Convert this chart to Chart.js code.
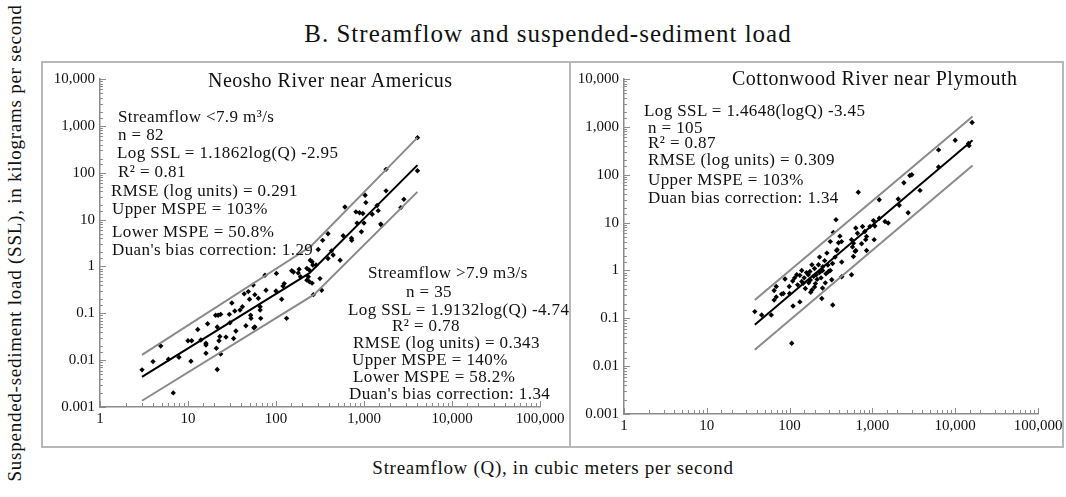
<!DOCTYPE html>
<html>
<head>
<meta charset="utf-8">
<script src="https://cdn.jsdelivr.net/npm/chart.js@4.4.1/dist/chart.umd.min.js"></script>
<style>
  html, body { margin: 0; padding: 0; background: #fff; }
  body {
    width: 1066px; height: 497px; position: relative; overflow: hidden;
    font-family: "Liberation Serif", "DejaVu Serif", serif; color: #111;
  }
  .frame { position: absolute; border: 2px solid #b8b8b8; box-sizing: border-box; }
  canvas { position: absolute; }
  .t { position: absolute; white-space: nowrap; font-size: 17px; line-height: 17px; letter-spacing: 0.4px; }
  .ptitle { position: absolute; white-space: nowrap; font-size: 20px; line-height: 20px; letter-spacing: 0.5px; }
  #title {
    position: absolute; left: 0; width: 1096px; text-align: center; top: 21px;
    font-size: 25px; line-height: 25px; letter-spacing: 1px;
  }
  #xtitle {
    position: absolute; left: 0; width: 1106px; text-align: center; top: 458px;
    font-size: 19px; line-height: 19px; letter-spacing: 0.7px;
  }
  #ytitle {
    position: absolute; left: 14px; top: 243px; font-size: 19px; line-height: 19px; white-space: nowrap;
    letter-spacing: 0.75px; transform: translate(-50%, -50%) rotate(-90deg);
  }
</style>
</head>
<body>

<div id="title">B. Streamflow and suspended-sediment load</div>
<div id="ytitle">Suspended-sediment load (SSL), in kilograms per second</div>
<div id="xtitle">Streamflow (Q), in cubic meters per second</div>

<div class="frame" style="left:41px;top:61px;width:530px;height:387px"></div>
<div class="frame" style="left:569px;top:61px;width:495px;height:387px"></div>

<canvas id="neosho" width="526" height="384" style="left:42px;top:62px"></canvas>
<canvas id="cottonwood" width="492" height="384" style="left:571px;top:62px"></canvas>

<!-- Neosho River annotations -->
<div class="ptitle" style="left:208px;top:70px">Neosho River near Americus</div>
<div class="t" style="left:118px;top:108px">Streamflow &lt;7.9 m³/s</div>
<div class="t" style="left:118px;top:126px">n = 82</div>
<div class="t" style="left:117px;top:144px">Log SSL = 1.1862log(Q) -2.95</div>
<div class="t" style="left:118px;top:163px">R² = 0.81</div>
<div class="t" style="left:111px;top:182px">RMSE (log units) = 0.291</div>
<div class="t" style="left:112px;top:200px">Upper MSPE = 103%</div>
<div class="t" style="left:112px;top:223px">Lower MSPE = 50.8%</div>
<div class="t" style="left:112px;top:241px">Duan's bias correction: 1.29</div>

<div class="t" style="left:368px;top:264px">Streamflow &gt;7.9 m3/s</div>
<div class="t" style="left:406px;top:283px">n = 35</div>
<div class="t" style="left:348px;top:301px">Log SSL = 1.9132log(Q) -4.74</div>
<div class="t" style="left:392px;top:317px">R² = 0.78</div>
<div class="t" style="left:353px;top:334px">RMSE (log units) = 0.343</div>
<div class="t" style="left:352px;top:351px">Upper MSPE = 140%</div>
<div class="t" style="left:353px;top:368px">Lower MSPE = 58.2%</div>
<div class="t" style="left:349px;top:385px">Duan's bias correction: 1.34</div>

<!-- Cottonwood River annotations -->
<div class="ptitle" style="left:732px;top:68px">Cottonwood River near Plymouth</div>
<div class="t" style="left:644px;top:102px">Log SSL = 1.4648(logQ) -3.45</div>
<div class="t" style="left:648px;top:119px">n = 105</div>
<div class="t" style="left:648px;top:134px">R² = 0.87</div>
<div class="t" style="left:648px;top:151px">RMSE (log units) = 0.309</div>
<div class="t" style="left:648px;top:171px">Upper MSPE = 103%</div>
<div class="t" style="left:648px;top:189px">Duan bias correction: 1.34</div>

<script>
// ── Neosho River near Americus: streamflow (m³/s) vs SSL (kg/s) ──
const neoshoQ = [
  3.0, 4.0, 4.9, 6.0, 6.8, 7.9, 10.8, 10, 11, 12.9, 14, 16, 16, 16, 16.7, 20.6, 21.5, 22, 23.5, 21,
  21.5, 22.5, 23, 23.5, 27, 30, 29.5, 31.5, 34, 33, 35, 39, 41.5, 43.5, 48.5, 45.5, 51.5, 52, 50, 55,
  57.5, 57.5, 56, 63, 66, 66, 67, 75, 77, 101, 100, 116, 132, 124, 158, 179,
  120, 151, 183, 190, 224, 240, 233, 245, 257, 262, 224, 240, 257, 266, 330, 316, 285, 302, 339, 390,
  390, 427, 446, 535, 725, 607, 810, 890, 970, 835, 935, 1000, 1030, 1050, 580, 720,
  4050, 4050, 1780, 1780, 2840, 2620, 1410, 1450, 1240, 1550, 1580
];
const neoshoSSL = [
  0.0062, 0.0093, 0.020, 0.0105, 0.002, 0.0115, 0.0095, 0.026, 0.026, 0.045, 0.027, 0.023, 0.021, 0.014, 0.060, 0.091, 0.051, 0.091, 0.095, 0.018,
  0.0063, 0.026, 0.032, 0.0135, 0.031, 0.063, 0.095, 0.166, 0.112, 0.029, 0.042, 0.117, 0.138, 0.26, 0.29, 0.054, 0.091, 0.078, 0.20, 0.40,
  0.25, 0.051, 0.049, 0.21, 0.138, 0.117, 0.078, 0.65, 0.31, 0.71, 0.30, 0.20, 0.078, 0.43, 0.76, 0.72,
  0.38, 0.81, 0.87, 0.60, 0.91, 0.83, 0.60, 1.35, 1.26, 1.07, 0.51, 0.47, 0.44, 0.25, 0.31, 0.55, 1.07, 2.3, 3.6, 5.0,
  1.48, 2.15, 1.75, 1.35, 3.6, 18.6, 14.6, 14, 13.5, 8.4, 5.5, 8.4, 33, 23, 4.5, 4.0,
  560, 110, 118, 41, 27, 18, 20, 15.5, 13, 8, 7.6
];
// two-segment regression and prediction bounds (break near Q = 240)
const neoshoFitQ   = [3, 240, 4050];
const neoshoFitSSL = [0.0044, 0.72, 145];
const neoshoUpQ    = [3, 250, 4050];
const neoshoUpSSL  = [0.0129, 2.7, 560];
const neoshoLoQ    = [3, 270, 4050];
const neoshoLoSSL  = [0.00136, 0.25, 39];

// ── Cottonwood River near Plymouth ──
const cottonQ = [
  38, 46, 60, 65, 69, 65, 69, 88, 84, 80, 100, 99, 109, 106, 110, 133, 122, 133, 140, 146,
  168, 176, 186, 186, 178, 205, 210, 223,
  16000, 10000, 6300, 6300, 14700, 14500, 2990, 2830, 2400, 3760, 2050, 2110, 2700, 1210, 675, 363, 337, 1210, 1420, 1550,
  1030, 1070, 935, 760, 810, 850, 630, 660, 1050, 830, 740, 590, 560, 405, 425, 390, 310, 575, 630, 282,
  370, 850, 355, 590,
  323, 332, 426, 560, 245, 250, 310, 252, 375, 620, 426, 250, 295,
  150, 160, 170, 195, 200, 215, 230, 240, 265, 275, 200, 180, 155, 125, 115, 140, 230, 270, 290, 330
];
const cottonSSL = [
  0.138, 0.117, 0.117, 0.24, 0.46, 0.38, 0.28, 0.66, 0.33, 0.32, 0.33, 0.46, 0.60, 0.030, 0.18, 0.22, 0.81, 0.79, 0.59, 0.54,
  0.81, 0.95, 1.31, 0.39, 0.63, 0.53, 0.81, 1.31,
  1230, 525, 330, 145, 405, 450, 100, 96, 68, 47, 31, 23, 16, 30, 43, 11.5, 6.2, 12.3, 10.5, 9.8,
  11, 8.5, 8.3, 8.3, 6.5, 5.1, 7.7, 6.0, 4.4, 4.4, 3.6, 3.7, 4.4, 5.2, 4.0, 3.8, 4.0, 3.1, 2.6, 2.3,
  2.6, 2.6, 1.9, 1.95,
  0.64, 0.19, 0.74, 0.81, 0.26, 0.43, 1.0, 1.2, 2.7, 2.5, 1.5, 1.0, 0.95,
  0.7, 0.9, 0.55, 0.75, 1.1, 0.65, 0.9, 0.7, 1.6, 0.85, 0.45, 0.35, 0.42, 0.5, 0.7, 1.0, 1.9, 0.55, 1.3, 1.4
];
const cottonFitQ   = [38, 16200];
const cottonFitSSL = [0.073, 525];
const cottonUpQ    = [38, 16200];
const cottonUpSSL  = [0.24, 1650];
const cottonLoQ    = [38, 16200];
const cottonLoSSL  = [0.022, 155];

// ── shared styling ──
const FONT = '"Liberation Serif", "DejaVu Serif", serif';
const AXIS = '#8c8c8c';
const BAND = '#8a8a8a';

const isDecade = v => Math.abs(Math.log10(v) - Math.round(Math.log10(v))) < 1e-9;
const fmtDecade = v => {
  if (!isDecade(v)) return '';
  return v >= 1 ? v.toLocaleString('en-US') : String(Number(v.toPrecision(1)));
};
const pairs = (xs, ys) => xs.map((x, i) => ({ x, y: ys[i] }));

// log ticks drawn inward from the axis lines
const innerTicks = {
  id: 'innerTicks',
  afterDraw(chart) {
    const { ctx } = chart;
    const { x, y } = chart.scales;
    ctx.save();
    ctx.strokeStyle = AXIS;
    ctx.lineWidth = 1;
    x.ticks.forEach(t => {
      const px = Math.round(x.getPixelForValue(t.value)) + 0.5;
      const len = isDecade(t.value) ? 6 : 4;
      ctx.beginPath(); ctx.moveTo(px, y.bottom); ctx.lineTo(px, y.bottom - len); ctx.stroke();
    });
    y.ticks.forEach(t => {
      const py = Math.round(y.getPixelForValue(t.value)) + 0.5;
      const len = isDecade(t.value) ? 6 : 3;
      ctx.beginPath(); ctx.moveTo(x.left, py); ctx.lineTo(x.left + len, py); ctx.stroke();
    });
    ctx.restore();
  }
};

function lineSet(xs, ys, color) {
  return {
    type: 'line', data: pairs(xs, ys), borderColor: color, borderWidth: 2,
    pointRadius: 0, fill: false, tension: 0
  };
}

function buildChart(id, q, ssl, fit, up, lo, box) {
  return new Chart(document.getElementById(id), {
    type: 'scatter',
    data: {
      datasets: [
        lineSet(up[0], up[1], BAND),
        lineSet(lo[0], lo[1], BAND),
        lineSet(fit[0], fit[1], '#000'),
        {
          data: pairs(q, ssl), pointStyle: 'rectRot', pointRadius: 2.7,
          backgroundColor: '#000', borderColor: '#000', borderWidth: 0
        }
      ]
    },
    options: {
      responsive: false,
      animation: false,
      events: [],
      layout: { padding: { left: 0, top: box.top, right: box.right, bottom: 0 } },
      plugins: { legend: { display: false }, tooltip: { enabled: false } },
      scales: {
        x: {
          type: 'logarithmic', min: 1, max: 100000,
          grid: { display: false, drawTicks: false },
          border: { display: true, color: AXIS, width: 1.5 },
          ticks: {
            autoSkip: false, maxRotation: 0, padding: 3, color: '#111',
            font: { family: FONT, size: 15 }, callback: fmtDecade
          },
          afterFit(s) { s.height = box.xh; s.paddingLeft = 0; s.paddingRight = 0; }
        },
        y: {
          type: 'logarithmic', min: 0.001, max: 10000,
          grid: { display: false, drawTicks: false },
          border: { display: true, color: AXIS, width: 1.5 },
          ticks: {
            autoSkip: false, padding: 5, color: '#111',
            font: { family: FONT, size: 15 }, callback: fmtDecade
          },
          afterFit(s) { s.width = box.yw; s.paddingTop = 0; s.paddingBottom = 0; }
        }
      }
    },
    plugins: [innerTicks]
  });
}

buildChart('neosho', neoshoQ, neoshoSSL,
  [neoshoFitQ, neoshoFitSSL], [neoshoUpQ, neoshoUpSSL], [neoshoLoQ, neoshoLoSSL],
  { top: 17, right: 28, xh: 39, yw: 58 });

buildChart('cottonwood', cottonQ, cottonSSL,
  [cottonFitQ, cottonFitSSL], [cottonUpQ, cottonUpSSL], [cottonLoQ, cottonLoSSL],
  { top: 17, right: 25, xh: 32, yw: 53 });
</script>
</body>
</html>
